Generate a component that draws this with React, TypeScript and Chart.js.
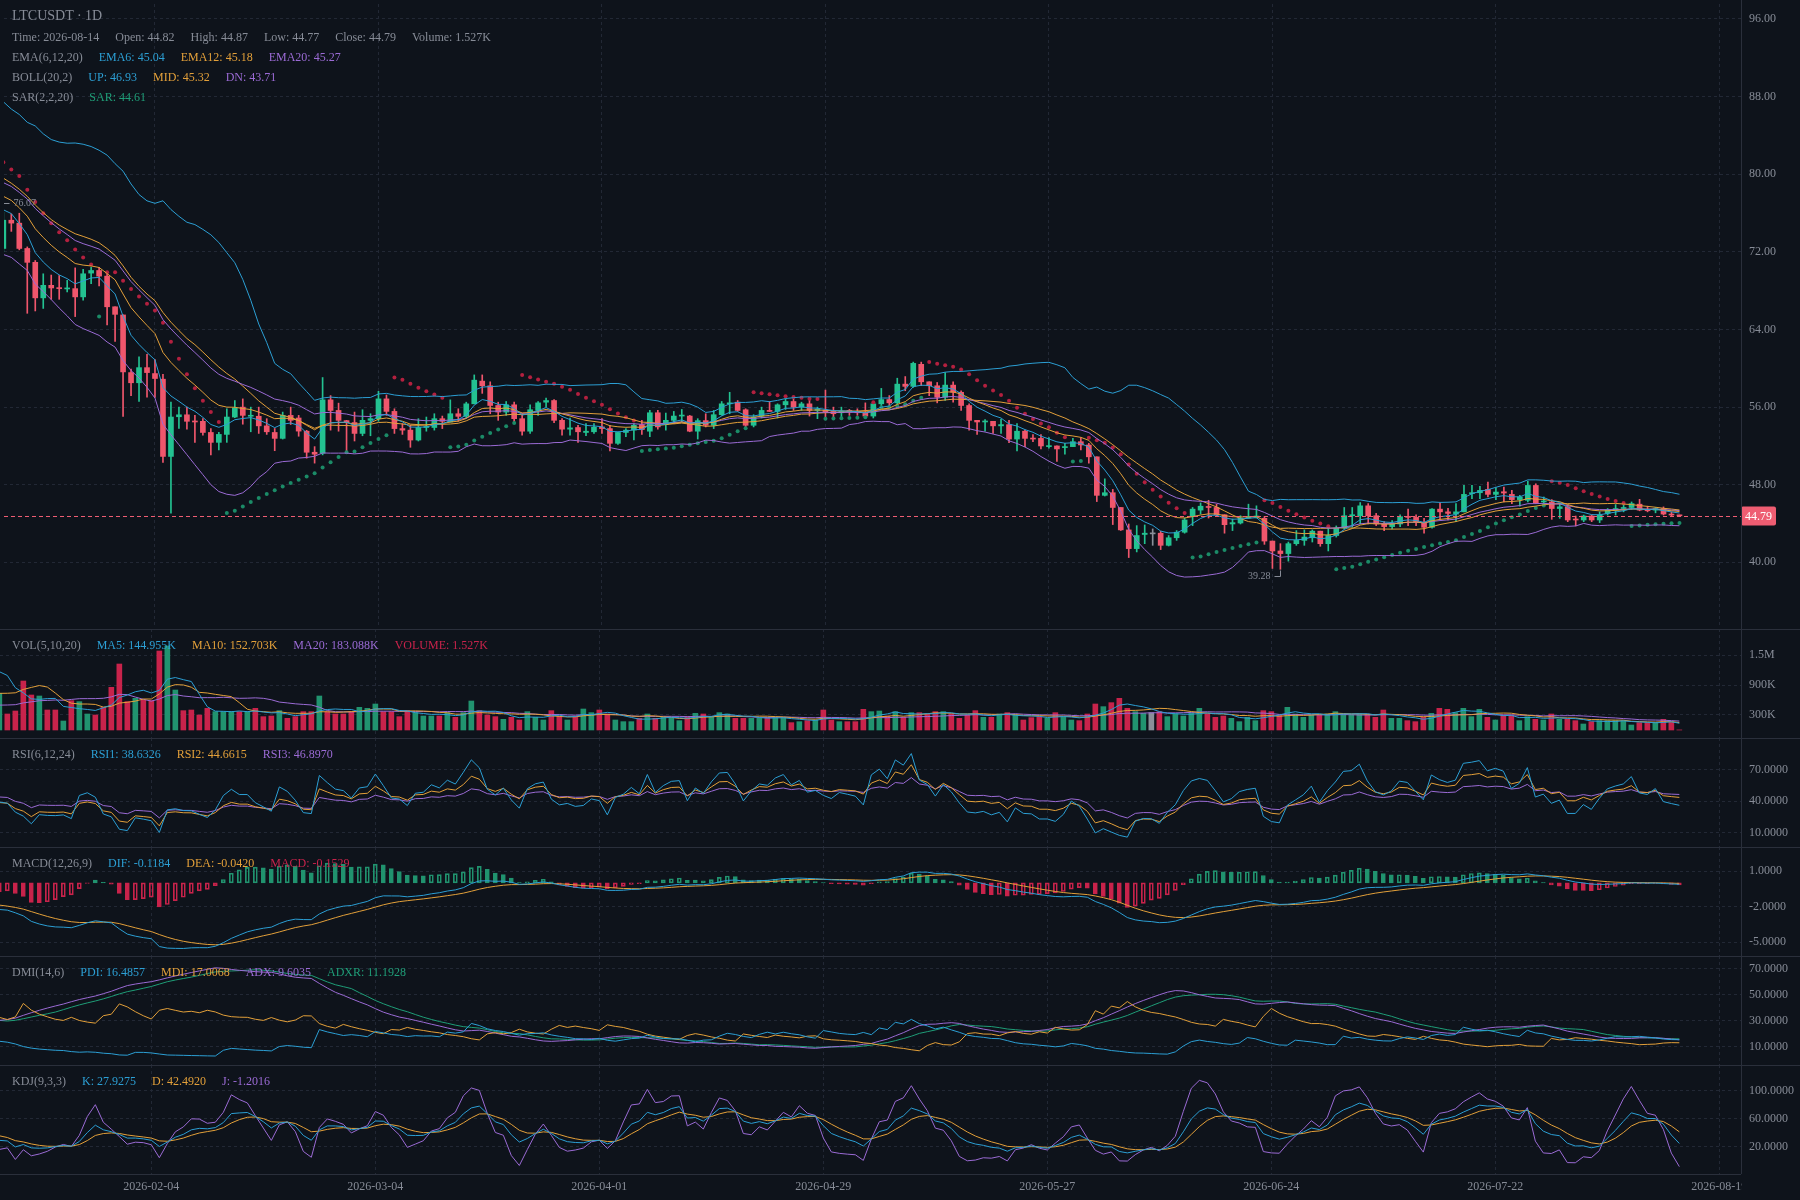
import React, { useEffect, useRef } from 'react';
import { Chart, registerables } from 'chart.js';

Chart.register(...registerables);

// ---------------- data ----------------
const FIRST_DATE = '2025-12-07'; // date of first candle (includes warm-up history before the visible window)
const PRE = 40; // number of warm-up candles before 2026-01-16 (left edge)

const OPEN = [
  84.2, 84.6, 85.3, 84.9, 85.8, 86.4, 85.7, 85.1, 85.9, 86.6,
  86.0, 85.3, 84.7, 85.4, 86.1, 85.6, 84.9, 85.5, 86.2, 85.8,
  85.0, 84.7, 85.4, 84.8, 85.6, 85.0, 84.4, 82.4, 79.6, 77.5,
  76.0, 75.2, 75.9, 76.9, 78.2, 79.6, 81.2, 82.0, 78.6, 75.6,
  72.34, 75.25, 74.95, 72.34, 70.91, 67.25, 68.54, 68.27, 68.17, 68.20,
  67.35, 69.80, 70.07, 69.49, 66.33, 65.49, 59.55, 58.50, 60.06, 59.45,
  58.87, 50.91, 55.00, 55.20, 54.53, 54.53, 53.38, 52.36, 53.18, 54.97,
  55.99, 55.05, 55.05, 54.06, 53.38, 52.77, 55.14, 54.87, 53.51, 51.34,
  51.24, 56.74, 55.65, 54.60, 54.40, 53.28, 54.63, 54.80, 56.84, 55.55,
  53.78, 53.62, 52.60, 53.89, 53.89, 54.80, 54.46, 55.31, 55.04, 56.33,
  58.67, 58.19, 56.16, 55.48, 56.23, 54.80, 53.51, 55.65, 56.50, 56.67,
  54.63, 53.72, 53.89, 53.38, 53.45, 53.95, 53.78, 52.26, 53.38, 53.62,
  54.19, 53.51, 55.41, 54.19, 54.63, 55.07, 55.07, 53.51, 54.60, 54.12,
  55.21, 56.33, 56.50, 55.72, 54.12, 55.07, 55.65, 55.55, 56.23, 56.57,
  55.99, 56.33, 55.65, 55.65, 55.55, 55.41, 55.65, 55.55, 55.48, 55.07,
  56.33, 56.77, 56.43, 58.36, 58.13, 60.40, 58.60, 58.19, 57.01, 58.26,
  57.52, 56.16, 54.63, 54.46, 54.53, 54.06, 54.19, 52.70, 53.51, 52.77,
  52.77, 51.92, 51.99, 51.82, 51.92, 52.43, 52.09, 50.87, 46.90, 47.17,
  45.65, 43.34, 41.41, 42.87, 42.93, 43.00, 41.75, 42.53, 43.10, 44.70,
  45.38, 45.72, 45.65, 44.90, 43.95, 44.05, 44.56, 44.63, 44.53, 42.19,
  41.17, 40.90, 41.92, 42.26, 42.53, 43.21, 41.92, 42.76, 43.54, 44.80,
  44.80, 45.82, 44.80, 43.95, 43.68, 43.95, 44.70, 44.63, 44.02, 43.61,
  45.48, 45.20, 44.97, 45.20, 47.07, 47.17, 47.51, 47.00, 47.27, 47.00,
  46.46, 46.39, 47.92, 46.22, 46.22, 45.54, 45.72, 44.46, 44.36, 44.77,
  44.36, 45.04, 45.38, 45.54, 45.65, 45.99, 45.44, 45.38, 45.54, 44.97,
  44.82,
];

const HIGH = [
  85.0, 85.7, 85.8, 86.2, 86.9, 86.7, 86.0, 86.3, 87.1, 86.9,
  86.3, 85.6, 85.8, 86.5, 86.4, 85.9, 85.9, 86.6, 86.5, 86.1,
  85.4, 85.8, 85.7, 86.0, 85.9, 85.3, 84.6, 82.7, 80.0, 77.9,
  76.4, 76.3, 77.3, 78.6, 80.0, 81.6, 83.0, 82.4, 79.0, 76.0,
  76.07, 75.90, 75.97, 72.50, 71.10, 69.73, 69.60, 69.55, 69.05, 70.34,
  70.20, 70.40, 70.40, 69.90, 66.33, 65.50, 59.90, 61.18, 61.42, 60.90,
  59.38, 56.50, 55.99, 55.99, 55.14, 54.80, 53.79, 53.40, 55.82, 56.67,
  56.84, 55.99, 55.99, 54.80, 53.79, 55.48, 55.99, 55.14, 53.60, 51.92,
  59.04, 57.18, 56.40, 54.63, 55.48, 55.72, 55.31, 57.62, 57.24, 55.82,
  54.29, 54.12, 54.80, 54.97, 55.31, 55.07, 56.74, 55.82, 56.50, 59.31,
  59.31, 58.60, 56.50, 56.57, 56.50, 55.31, 56.23, 56.57, 56.91, 56.77,
  54.80, 54.87, 54.12, 54.29, 54.29, 54.80, 54.12, 53.40, 53.78, 54.29,
  54.63, 55.65, 55.65, 55.38, 55.55, 55.75, 55.14, 54.80, 55.31, 55.65,
  56.57, 57.52, 56.67, 55.82, 55.21, 55.99, 56.57, 56.33, 56.84, 56.84,
  56.50, 56.84, 55.99, 57.75, 55.99, 55.99, 55.75, 55.82, 56.43, 56.50,
  57.92, 57.18, 58.97, 59.14, 60.63, 60.63, 58.60, 58.53, 59.55, 58.60,
  57.68, 56.33, 54.63, 54.70, 54.53, 54.73, 54.63, 54.29, 53.62, 53.17,
  53.17, 52.84, 51.99, 52.26, 52.77, 52.84, 52.26, 50.87, 48.60, 47.51,
  45.65, 43.95, 43.78, 43.85, 43.44, 43.20, 42.76, 43.27, 44.56, 45.65,
  46.12, 46.39, 45.99, 44.90, 44.46, 44.80, 45.99, 45.82, 44.70, 42.19,
  41.92, 42.09, 43.27, 43.34, 43.34, 43.21, 43.61, 43.75, 45.65, 45.65,
  46.16, 46.05, 45.04, 44.19, 44.29, 44.90, 45.48, 44.90, 44.53, 45.54,
  46.12, 45.55, 46.05, 47.92, 47.92, 47.82, 48.26, 47.68, 47.75, 47.41,
  46.90, 48.36, 48.09, 46.73, 46.46, 46.05, 45.88, 44.77, 44.87, 44.87,
  45.20, 45.54, 45.95, 46.05, 46.22, 46.49, 45.78, 45.65, 45.71, 45.20,
  44.87,
];

const LOW = [
  83.8, 84.3, 84.5, 84.6, 85.4, 85.3, 84.7, 84.8, 85.6, 85.6,
  84.9, 84.3, 84.4, 85.1, 85.2, 84.5, 84.6, 85.2, 85.4, 84.6,
  84.3, 84.4, 84.4, 84.5, 84.6, 84.0, 82.0, 79.2, 77.1, 75.6,
  74.8, 75.0, 75.6, 76.6, 77.9, 79.3, 80.9, 74.6, 74.0, 72.4,
  72.00, 74.10, 72.20, 65.66, 65.90, 66.16, 67.10, 67.10, 67.86, 65.32,
  67.00, 68.70, 68.47, 64.47, 62.77, 55.04, 57.18, 56.57, 57.01, 57.00,
  50.30, 45.07, 53.79, 53.72, 52.36, 53.10, 51.07, 51.58, 52.36, 54.90,
  54.23, 53.45, 53.28, 53.18, 51.50, 52.70, 54.20, 52.99, 50.73, 50.22,
  51.07, 53.62, 53.51, 51.41, 52.50, 53.04, 53.04, 54.53, 55.14, 53.28,
  53.18, 51.85, 52.50, 53.51, 53.62, 53.78, 54.46, 54.53, 54.87, 56.33,
  57.41, 55.31, 54.63, 55.14, 54.40, 53.11, 53.28, 55.14, 55.99, 54.40,
  53.11, 53.11, 52.36, 53.04, 53.28, 53.28, 51.48, 52.16, 52.94, 52.60,
  53.18, 52.94, 53.72, 53.62, 54.29, 54.46, 53.45, 52.70, 53.95, 53.78,
  55.14, 55.31, 55.55, 53.95, 53.95, 54.87, 55.55, 54.87, 55.75, 55.65,
  55.65, 55.07, 54.80, 54.97, 54.97, 54.87, 55.14, 55.14, 54.97, 54.87,
  55.99, 56.16, 56.33, 57.68, 58.02, 58.20, 57.17, 56.43, 56.67, 56.50,
  55.65, 53.62, 53.17, 53.51, 53.28, 53.28, 52.33, 51.48, 51.92, 52.43,
  51.68, 51.75, 50.39, 51.14, 51.92, 51.58, 50.22, 46.26, 46.83, 43.89,
  43.28, 40.49, 41.07, 41.92, 41.75, 41.31, 41.68, 42.26, 43.00, 43.78,
  44.97, 44.56, 44.80, 43.00, 43.27, 43.95, 44.53, 44.56, 41.85, 39.37,
  39.28, 40.12, 41.75, 41.75, 42.09, 41.65, 41.17, 42.60, 43.44, 43.61,
  43.95, 43.95, 43.78, 43.27, 43.44, 43.68, 43.78, 43.78, 43.00, 43.51,
  44.43, 44.36, 44.19, 45.20, 46.56, 46.56, 46.73, 46.46, 46.22, 46.05,
  45.78, 46.22, 46.05, 45.99, 44.43, 44.53, 44.19, 43.75, 44.19, 44.19,
  44.09, 44.87, 44.87, 45.20, 45.44, 45.31, 45.20, 45.10, 44.87, 44.77,
  44.77,
];

const CLOSE = [
  84.6, 85.3, 84.9, 85.8, 86.4, 85.7, 85.1, 85.9, 86.6, 86.0,
  85.3, 84.7, 85.4, 86.1, 85.6, 84.9, 85.5, 86.2, 85.8, 85.0,
  84.7, 85.4, 84.8, 85.6, 85.0, 84.4, 82.4, 79.6, 77.5, 76.0,
  75.2, 75.9, 76.9, 78.2, 79.6, 81.2, 82.0, 78.6, 75.6, 72.6,
  75.25, 74.95, 72.34, 70.91, 67.25, 68.54, 68.27, 68.20, 68.27, 67.35,
  69.73, 70.07, 69.49, 66.33, 65.55, 59.62, 58.50, 60.06, 59.55, 58.94,
  50.91, 54.97, 55.20, 54.53, 54.46, 53.38, 52.36, 53.18, 54.97, 55.89,
  55.14, 55.14, 54.06, 53.45, 52.77, 55.14, 54.63, 53.52, 51.34, 51.14,
  56.74, 55.65, 54.63, 54.40, 53.28, 54.63, 54.80, 56.84, 55.55, 53.78,
  53.62, 52.60, 53.89, 54.00, 54.80, 54.53, 55.31, 55.04, 56.33, 58.77,
  58.19, 56.16, 55.48, 56.23, 54.80, 53.51, 55.72, 56.43, 56.67, 54.63,
  53.72, 53.85, 53.45, 53.51, 53.92, 53.78, 52.26, 53.38, 53.62, 54.12,
  53.68, 55.41, 53.95, 54.63, 55.07, 55.14, 53.51, 54.60, 54.12, 55.21,
  56.33, 56.40, 55.65, 54.12, 54.97, 55.65, 55.55, 56.23, 56.57, 55.99,
  56.33, 55.65, 55.75, 55.48, 55.31, 55.55, 55.48, 55.41, 55.07, 56.33,
  56.77, 56.43, 58.36, 58.13, 60.50, 58.60, 58.19, 57.01, 58.26, 57.52,
  56.16, 54.63, 54.46, 54.56, 54.06, 54.19, 52.70, 53.51, 52.77, 52.70,
  51.99, 51.99, 51.68, 51.92, 52.43, 52.09, 50.87, 46.90, 47.17, 45.65,
  43.34, 41.41, 42.76, 43.00, 42.93, 41.75, 42.53, 43.10, 44.36, 45.48,
  45.78, 45.65, 44.90, 43.88, 44.09, 44.56, 44.70, 44.77, 42.19, 41.17,
  40.90, 41.92, 42.26, 42.60, 43.21, 41.92, 42.76, 43.54, 44.80, 44.90,
  45.82, 44.80, 43.95, 43.68, 43.95, 44.70, 44.63, 44.15, 43.61, 45.48,
  45.20, 45.04, 45.20, 47.00, 47.17, 47.41, 47.00, 47.24, 47.14, 46.46,
  46.73, 47.92, 46.12, 46.32, 45.54, 45.72, 44.36, 44.36, 44.77, 44.36,
  44.87, 45.38, 45.54, 45.65, 46.05, 45.38, 45.31, 45.54, 44.97, 44.87,
  44.79,
];

// volume in thousands
const VOLUME = [
  260, 245, 280, 230, 270, 255, 290, 240, 265, 250,
  275, 235, 260, 285, 245, 270, 250, 265, 240, 280,
  255, 270, 245, 260, 275, 250, 265, 240, 285, 255,
  270, 300, 290, 310, 297, 300, 700, 1600, 1500, 1300,
  733, 320, 380, 980, 700, 680, 400, 400, 180, 587,
  567, 320, 300, 453, 853, 1320, 567, 633, 600, 587,
  1580, 1680, 800, 387, 400, 300, 433, 367, 367, 367,
  367, 367, 433, 267, 280, 387, 233, 267, 367, 367,
  680, 367, 320, 320, 367, 453, 433, 520, 367, 367,
  267, 387, 347, 280, 280, 280, 347, 253, 347, 580,
  387, 300, 267, 213, 253, 200, 367, 253, 200, 387,
  280, 200, 280, 420, 347, 400, 320, 200, 167, 167,
  233, 320, 233, 253, 233, 187, 267, 333, 320, 253,
  347, 320, 233, 233, 233, 233, 253, 253, 253, 147,
  167, 187, 200, 400, 200, 167, 167, 167, 413, 367,
  380, 280, 367, 253, 347, 347, 320, 367, 367, 320,
  233, 300, 387, 253, 253, 320, 347, 300, 200, 247,
  267, 233, 347, 253, 200, 187, 320, 520, 467, 547,
  633, 433, 367, 333, 347, 367, 267, 320, 280, 347,
  433, 320, 253, 280, 233, 167, 253, 187, 387, 367,
  300, 453, 320, 253, 300, 300, 320, 367, 320, 300,
  320, 320, 253, 400, 233, 233, 187, 167, 253, 333,
  433, 413, 347, 433, 267, 413, 253, 200, 300, 300,
  187, 267, 213, 200, 320, 213, 213, 187, 120, 167,
  187, 187, 187, 187, 100, 147, 147, 147, 213, 167,
  1.527,
];

const X_TICK_DATES = ['2026-02-04', '2026-03-04', '2026-04-01', '2026-04-29', '2026-05-27', '2026-06-24', '2026-07-22', '2026-08-19'];
const MAIN_TICKS = [40, 48, 56, 64, 72, 80, 88, 96];
const VOL_TICKS = [300, 900, 1500];
const RSI_TICKS = [10, 40, 70];
const MACD_TICKS = [-5, -2, 1];
const DMI_TICKS = [10, 30, 50, 70];
const KDJ_TICKS = [20, 60, 100];

// header texts
const TITLE = 'LTCUSDT · 1D';
const INFO_ROW = ['Time: 2026-08-14', 'Open: 44.82', 'High: 44.87', 'Low: 44.77', 'Close: 44.79', 'Volume: 1.527K'];
const EMA_ROW = ['EMA(6,12,20)', 'EMA6: 45.04', 'EMA12: 45.18', 'EMA20: 45.27'];
const BOLL_ROW = ['BOLL(20,2)', 'UP: 46.93', 'MID: 45.32', 'DN: 43.71'];
const SAR_ROW = ['SAR(2,2,20)', 'SAR: 44.61'];
const VOL_ROW = ['VOL(5,10,20)', 'MA5: 144.955K', 'MA10: 152.703K', 'MA20: 183.088K', 'VOLUME: 1.527K'];
const RSI_ROW = ['RSI(6,12,24)', 'RSI1: 38.6326', 'RSI2: 44.6615', 'RSI3: 46.8970'];
const MACD_ROW = ['MACD(12,26,9)', 'DIF: -0.1184', 'DEA: -0.0420', 'MACD: -0.1529'];
const DMI_ROW = ['DMI(14,6)', 'PDI: 16.4857', 'MDI: 17.0068', 'ADX: 9.6035', 'ADXR: 11.1928'];
const KDJ_ROW = ['KDJ(9,3,3)', 'K: 27.9275', 'D: 42.4920', 'J: -1.2016'];

// ---------------- style ----------------
const FONT = '"Liberation Serif", "Times New Roman", serif';
const BG = '#0e131b';
const GRID = '#222835';
const SEP = '#2a2f3b';
const TXT = '#878c97';
const CYAN = '#2c9fd4';
const ORANGE = '#e3a03a';
const PURPLE = '#9b6bd5';
const GREEN = '#1f9e78';
const RED = '#c8234b';
const UP = '#23c291';
const DOWN = '#f0566c';
const FLAT = '#8a8f99';
const VOL_UP = '#21936f';
const VOL_DOWN = '#c8234b';
const SAR_UP = '#1b8b67';
const SAR_DOWN = '#b3203f';
const TAG = '#ee5d72';

const W = 1800;
const PLOT_W = 1741;
const AXIS_W = W - PLOT_W;
const BAR_PX = 8;
const X_MIN = 0.083;
const X_MAX = X_MIN + PLOT_W / BAR_PX;

const PANES = [
  { key: 'main', top: 0, height: 629 },
  { key: 'vol', top: 629, height: 109 },
  { key: 'rsi', top: 738, height: 109 },
  { key: 'macd', top: 847, height: 109 },
  { key: 'dmi', top: 956, height: 109 },
  { key: 'kdj', top: 1065, height: 135 },
];

// ---------------- indicators ----------------
const N = CLOSE.length;
type Num = number | null;

const DAY = 86400000;
const dayIndex = (d: string) => Math.round((Date.parse(d) - Date.parse(FIRST_DATE)) / DAY) - PRE;
const X_TICKS = X_TICK_DATES.map(dayIndex);

function ema(src: number[], p: number): Num[] {
  const out: Num[] = [];
  let sum = 0;
  let prev = 0;
  for (let i = 0; i < src.length; i++) {
    sum += src[i];
    if (i < p - 1) out.push(null);
    else if (i === p - 1) { prev = sum / p; out.push(prev); }
    else { prev = (2 * src[i] + (p - 1) * prev) / (p + 1); out.push(prev); }
  }
  return out;
}

function sma(src: number[], p: number): Num[] {
  const out: Num[] = [];
  let sum = 0;
  for (let i = 0; i < src.length; i++) {
    sum += src[i];
    if (i >= p) sum -= src[i - p];
    out.push(i >= p - 1 ? sum / p : null);
  }
  return out;
}

function boll(p: number, k: number) {
  const mid: Num[] = [], up: Num[] = [], dn: Num[] = [];
  for (let i = 0; i < N; i++) {
    if (i < p - 1) { mid.push(null); up.push(null); dn.push(null); continue; }
    let s = 0;
    for (let j = i - p + 1; j <= i; j++) s += CLOSE[j];
    const m = s / p;
    let v = 0;
    for (let j = i - p + 1; j <= i; j++) v += (CLOSE[j] - m) ** 2;
    const sd = Math.sqrt(v / p);
    mid.push(m); up.push(m + k * sd); dn.push(m - k * sd);
  }
  return { mid, up, dn };
}

// parabolic SAR (extreme point includes the current bar)
function sar(startAf: number, step: number, maxAf: number): number[] {
  const out: number[] = [];
  let af = startAf;
  let ep = -100;
  let rising = false;
  let s = 0;
  for (let i = 0; i < N; i++) {
    const prev = s;
    const h = HIGH[i], l = LOW[i];
    const pi = Math.max(1, i) - 1;
    if (rising) {
      if (ep === -100 || ep < h) { ep = h; af = Math.min(af + step, maxAf); }
      s = prev + af * (ep - prev);
      const lowMin = Math.min(LOW[pi], l);
      if (s > l) { s = ep; af = startAf; ep = -100; rising = false; }
      else if (s > lowMin) s = lowMin;
    } else {
      if (ep === -100 || ep > l) { ep = l; af = Math.min(af + step, maxAf); }
      s = prev + af * (ep - prev);
      const highMax = Math.max(HIGH[pi], h);
      if (s < h) { s = ep; af = 0; ep = -100; rising = true; }
      else if (s < highMax) s = highMax;
    }
    out.push(s);
  }
  return out;
}

function rsi(p: number): Num[] {
  const out: Num[] = [null];
  let au = 0, ad = 0;
  for (let i = 1; i < N; i++) {
    const d = CLOSE[i] - CLOSE[i - 1];
    const u = Math.max(d, 0), w = Math.max(-d, 0);
    if (i === 1) { au = u; ad = w; } else { au = (u + (p - 1) * au) / p; ad = (w + (p - 1) * ad) / p; }
    out.push(i >= p ? (au + ad === 0 ? 50 : (100 * au) / (au + ad)) : null);
  }
  return out;
}

function macd(s: number, l: number, sig: number) {
  const es = ema(CLOSE, s), el = ema(CLOSE, l);
  const dif: Num[] = [], dea: Num[] = [], hist: Num[] = [];
  let difSum = 0, d = 0;
  const first = Math.max(s, l) - 1;
  for (let i = 0; i < N; i++) {
    if (i < first) { dif.push(null); dea.push(null); hist.push(null); continue; }
    const df = (es[i] as number) - (el[i] as number);
    dif.push(df);
    difSum += df;
    if (i < first + sig - 1) { dea.push(null); hist.push(null); continue; }
    d = i === first + sig - 1 ? difSum / sig : (2 * df + (sig - 1) * d) / (sig + 1);
    dea.push(d);
    hist.push((df - d) * 2);
  }
  return { dif, dea, hist };
}

function dmi(n: number, m: number) {
  const pdi: Num[] = [], mdi: Num[] = [], adx: Num[] = [], adxr: Num[] = [];
  let trSum = 0, hSum = 0, lSum = 0, mtr = 0, dmp = 0, dmm = 0, dxSum = 0, a = 0;
  for (let i = 0; i < N; i++) {
    const pi = i > 0 ? i - 1 : 0;
    const pc = CLOSE[pi];
    const tr = Math.max(HIGH[i] - LOW[i], Math.abs(HIGH[i] - pc), Math.abs(pc - LOW[i]));
    const hh = HIGH[i] - HIGH[pi];
    const ll = LOW[pi] - LOW[i];
    const h = hh > 0 && hh > ll ? hh : 0;
    const l = ll > 0 && ll > hh ? ll : 0;
    trSum += tr; hSum += h; lSum += l;
    pdi.push(null); mdi.push(null); adx.push(null); adxr.push(null);
    if (i < n - 1) continue;
    if (i > n - 1) { mtr = mtr - mtr / n + tr; dmp = dmp - dmp / n + h; dmm = dmm - dmm / n + l; }
    else { mtr = trSum; dmp = hSum; dmm = lSum; }
    const p = mtr ? (dmp * 100) / mtr : 0;
    const q = mtr ? (dmm * 100) / mtr : 0;
    pdi[i] = p; mdi[i] = q;
    const dx = p + q ? (Math.abs(q - p) / (p + q)) * 100 : 0;
    dxSum += dx;
    if (i >= n * 2 - 2) {
      a = i > n * 2 - 2 ? (a * (n - 1) + dx) / n : dxSum / n;
      adx[i] = a;
      if (i >= n * 2 + m - 3) adxr[i] = (((adx[i - (m - 1)] as number) ?? 0) + a) / 2;
    }
  }
  return { pdi, mdi, adx, adxr };
}

function kdj(n: number, m1: number, m2: number) {
  const K: Num[] = [], D: Num[] = [], J: Num[] = [];
  let k = 50, d = 50;
  for (let i = 0; i < N; i++) {
    if (i < n - 1) { K.push(null); D.push(null); J.push(null); continue; }
    let hh = -Infinity, ll = Infinity;
    for (let j = i - n + 1; j <= i; j++) { hh = Math.max(hh, HIGH[j]); ll = Math.min(ll, LOW[j]); }
    const rsv = ((CLOSE[i] - ll) / (hh - ll || 1)) * 100;
    k = ((m1 - 1) * k + rsv) / m1;
    d = ((m2 - 1) * d + k) / m2;
    K.push(k); D.push(d); J.push(3 * k - 2 * d);
  }
  return { K, D, J };
}

// ---------------- chart building ----------------
const pts = (arr: Num[]) => arr.map((v, i) => ({ x: i - PRE, y: v }));
const candleColor = (i: number) => (CLOSE[i] > OPEN[i] ? UP : CLOSE[i] < OPEN[i] ? DOWN : FLAT);
const volColor = (i: number) => (CLOSE[i] > OPEN[i] ? VOL_UP : CLOSE[i] < OPEN[i] ? VOL_DOWN : FLAT);

const lineDs = (arr: Num[], color: string) => ({
  type: 'line',
  data: pts(arr),
  borderColor: color,
  borderWidth: 1,
  pointRadius: 0,
  tension: 0,
  spanGaps: false,
  order: 0,
});

function xScale(labels: boolean) {
  return {
    type: 'linear',
    min: X_MIN,
    max: X_MAX,
    offset: false,
    grid: { color: GRID, drawTicks: false, offset: false },
    border: { display: false, dash: [3, 3] },
    ticks: {
      display: labels,
      color: TXT,
      font: { family: FONT, size: 12 },
      padding: 6,
      maxRotation: 0,
      autoSkip: false,
      callback: (v: number) => {
        const k = X_TICKS.indexOf(Math.round(v));
        return k >= 0 ? X_TICK_DATES[k] : '';
      },
    },
    afterBuildTicks: (s: any) => { s.ticks = X_TICKS.map((v) => ({ value: v })); },
    afterFit: (s: any) => { s.paddingLeft = 0; s.paddingRight = 0; s.height = labels ? 26 : 0; },
  };
}

function yScale(min: number, max: number, ticks: number[], fmt: (v: number) => string) {
  return {
    type: 'linear',
    position: 'right',
    min,
    max,
    grid: { color: GRID, drawTicks: false },
    border: { display: false, dash: [3, 3] },
    ticks: { color: TXT, font: { family: FONT, size: 12 }, padding: 8, callback: (v: number) => fmt(v) },
    afterBuildTicks: (s: any) => { s.ticks = ticks.map((v) => ({ value: v })); },
    afterFit: (s: any) => { s.width = AXIS_W; s.paddingTop = 0; s.paddingBottom = 0; },
  };
}

function options(yMin: number, yMax: number, ticks: number[], fmt: (v: number) => string, labels = false) {
  return {
    responsive: false,
    maintainAspectRatio: false,
    animation: false,
    events: [],
    layout: { padding: 0 },
    plugins: { legend: { display: false }, tooltip: { enabled: false } },
    scales: { x: xScale(labels), y: yScale(yMin, yMax, ticks, fmt) },
  };
}

const f2 = (v: number) => v.toFixed(2);
const f4 = (v: number) => v.toFixed(4);
const fVol = (v: number) => (v >= 1000 ? (v / 1000).toFixed(1) + 'M' : Math.round(v) + 'K');

const mainOverlay = {
  id: 'mainOverlay',
  afterDraw(chart: any) {
    const { ctx, chartArea: a, scales } = chart;
    const xs = scales.x, ys = scales.y;
    let hi = PRE, lo = PRE;
    for (let i = PRE; i < N; i++) {
      if (HIGH[i] > HIGH[hi]) hi = i;
      if (LOW[i] < LOW[lo]) lo = i;
    }
    ctx.save();
    ctx.beginPath();
    ctx.rect(a.left, a.top, a.right - a.left, a.bottom - a.top);
    ctx.clip();
    const last = CLOSE[N - 1];
    const py = Math.round(ys.getPixelForValue(last)) + 0.5;
    ctx.strokeStyle = TAG;
    ctx.lineWidth = 1;
    ctx.setLineDash([4, 3]);
    ctx.beginPath();
    ctx.moveTo(a.left, py);
    ctx.lineTo(a.right, py);
    ctx.stroke();
    ctx.setLineDash([]);
    ctx.strokeStyle = TXT;
    ctx.fillStyle = TXT;
    ctx.font = `10px ${FONT}`;
    ctx.textBaseline = 'middle';
    const hx = Math.round(xs.getPixelForValue(hi - PRE)) + 0.5;
    const hy = Math.round(ys.getPixelForValue(HIGH[hi])) + 0.5;
    ctx.beginPath();
    ctx.moveTo(hx, hy - 1);
    ctx.lineTo(hx, hy - 9);
    ctx.lineTo(hx + 6, hy - 9);
    ctx.stroke();
    ctx.textAlign = 'left';
    ctx.fillText(HIGH[hi].toFixed(2), hx + 10, hy - 9);
    const lx = Math.round(xs.getPixelForValue(lo - PRE)) + 0.5;
    const ly = Math.round(ys.getPixelForValue(LOW[lo])) + 0.5;
    ctx.beginPath();
    ctx.moveTo(lx, ly + 1);
    ctx.lineTo(lx, ly + 7);
    ctx.lineTo(lx - 6, ly + 7);
    ctx.stroke();
    ctx.textAlign = 'right';
    ctx.fillText(LOW[lo].toFixed(2), lx - 10, ly + 7);
    ctx.restore();

    ctx.save();
    ctx.font = `12px ${FONT}`;
    const txt = last.toFixed(2);
    const w = ctx.measureText(txt).width + 8;
    ctx.fillStyle = TAG;
    ctx.beginPath();
    if (ctx.roundRect) ctx.roundRect(a.right, py - 10, w, 19, 2);
    else ctx.rect(a.right, py - 10, w, 19);
    ctx.fill();
    ctx.fillStyle = '#ffffff';
    ctx.textAlign = 'left';
    ctx.textBaseline = 'middle';
    ctx.fillText(txt, a.right + 4, py);
    ctx.restore();
  },
};

const coverOverflow = {
  id: 'coverOverflow',
  afterDraw(chart: any) {
    const { ctx, chartArea: a, width, height } = chart;
    ctx.save();
    ctx.fillStyle = BG;
    ctx.fillRect(a.right + 1, a.bottom + 1, width - a.right, height - a.bottom);
    ctx.restore();
  },
};

function buildConfigs() {
  const e6 = ema(CLOSE, 6), e12 = ema(CLOSE, 12), e20 = ema(CLOSE, 20);
  const bb = boll(20, 2);
  const sr = sar(0.02, 0.02, 0.2);
  const sarColors = sr.map((v, i) => (v < (HIGH[i] + LOW[i]) / 2 ? SAR_UP : SAR_DOWN));
  const idx = CLOSE.map((_, i) => i);

  const main = {
    type: 'bar',
    data: {
      datasets: [
        lineDs(e6, CYAN), lineDs(e12, ORANGE), lineDs(e20, PURPLE),
        lineDs(bb.up, CYAN), lineDs(bb.mid, ORANGE), lineDs(bb.dn, PURPLE),
        {
          type: 'line', data: pts(sr), showLine: false, pointRadius: 2, pointBorderWidth: 0,
          pointBackgroundColor: sarColors, pointBorderColor: sarColors, order: 0,
        },
        {
          type: 'bar', data: idx.map((i) => ({ x: i - PRE, y: [OPEN[i], CLOSE[i]] })),
          backgroundColor: idx.map(candleColor), barThickness: 5, minBarLength: 1, grouped: false, order: 1,
        },
        {
          type: 'bar', data: idx.map((i) => ({ x: i - PRE, y: [LOW[i], HIGH[i]] })),
          backgroundColor: idx.map(candleColor), barThickness: 1, grouped: false, order: 2,
        },
      ],
    },
    options: options(33.54, 97.53, MAIN_TICKS, f2),
    plugins: [mainOverlay],
  };

  const vol = {
    type: 'bar',
    data: {
      datasets: [
        lineDs(sma(VOLUME, 5), CYAN), lineDs(sma(VOLUME, 10), ORANGE), lineDs(sma(VOLUME, 20), PURPLE),
        {
          type: 'bar', data: idx.map((i) => ({ x: i - PRE, y: VOLUME[i] })),
          backgroundColor: idx.map(volColor), barThickness: 5, grouped: false, order: 1,
        },
      ],
    },
    options: options(-160, 2020, VOL_TICKS, fVol),
  };

  const r6 = rsi(6), r12 = rsi(12), r24 = rsi(24);
  const rsiCfg = {
    type: 'line',
    data: { datasets: [lineDs(r6, CYAN), lineDs(r12, ORANGE), lineDs(r24, PURPLE)] },
    options: options(-3.7, 100.6, RSI_TICKS, f4),
  };

  const md = macd(12, 26, 9);
  const histColor = idx.map((i) => ((md.hist[i] ?? 0) > 0 ? VOL_UP : VOL_DOWN));
  const histFill = idx.map((i) => {
    const cur = md.hist[i] ?? 0;
    const prev = i > 0 ? md.hist[i - 1] ?? 0 : 0;
    return prev < cur ? 'rgba(0,0,0,0)' : histColor[i];
  });
  const macdCfg = {
    type: 'bar',
    data: {
      datasets: [
        lineDs(md.dif, CYAN), lineDs(md.dea, ORANGE),
        {
          type: 'bar', data: pts(md.hist), backgroundColor: histFill, borderColor: histColor,
          borderWidth: 1, borderSkipped: false, barThickness: 4, grouped: false, order: 1,
        },
      ],
    },
    options: options(-6.18, 3.03, MACD_TICKS, f4),
  };

  const dm = dmi(14, 6);
  const dmiCfg = {
    type: 'line',
    data: { datasets: [lineDs(dm.pdi, CYAN), lineDs(dm.mdi, ORANGE), lineDs(dm.adx, PURPLE), lineDs(dm.adxr, GREEN)] },
    options: options(-4.08, 79.77, DMI_TICKS, f4),
  };

  const kd = kdj(9, 3, 3);
  const kdjCfg = {
    type: 'line',
    data: { datasets: [lineDs(kd.K, CYAN), lineDs(kd.D, ORANGE), lineDs(kd.J, PURPLE)] },
    options: options(-18.6, 137.1, KDJ_TICKS, f4, true),
    plugins: [coverOverflow],
  };

  return [main, vol, rsiCfg, macdCfg, dmiCfg, kdjCfg];
}

// ---------------- components ----------------
function Legend({ top, items, size = 12 }: { top: number; items: { text: string; color: string }[]; size?: number }) {
  return (
    <div
      style={{
        position: 'absolute', left: 12, top, height: 16, lineHeight: '16px', fontSize: size,
        display: 'flex', gap: 16, whiteSpace: 'nowrap', pointerEvents: 'none', fontFamily: FONT,
      }}
    >
      {items.map((it, i) => (
        <span key={i} style={{ color: it.color }}>{it.text}</span>
      ))}
    </div>
  );
}

const colorize = (row: string[], colors: string[]) => row.map((t, i) => ({ text: t, color: colors[i] ?? TXT }));

export default function App() {
  const canvases = useRef<(HTMLCanvasElement | null)[]>([]);

  useEffect(() => {
    document.body.style.margin = '0';
    document.body.style.background = BG;
    const cfgs = buildConfigs();
    const charts = cfgs.map((cfg, i) => new Chart(canvases.current[i] as HTMLCanvasElement, cfg as any));
    return () => charts.forEach((c) => c.destroy());
  }, []);

  const sepStyle = (top: number, width: number) => ({
    position: 'absolute' as const, left: 0, top, width, height: 1, background: SEP,
  });

  return (
    <div style={{ position: 'absolute', left: 0, top: 0, width: W, height: 1200, background: BG, overflow: 'hidden', fontFamily: FONT }}>
      {PANES.map((p, i) => (
        <canvas
          key={p.key}
          ref={(el) => { canvases.current[i] = el; }}
          width={W}
          height={p.height}
          style={{ position: 'absolute', left: 0, top: p.top, width: W, height: p.height }}
        />
      ))}
      {PANES.slice(1).map((p) => (
        <div key={'sep' + p.key} style={sepStyle(p.top, W)} />
      ))}
      <div style={sepStyle(1174, PLOT_W)} />
      <div style={{ position: 'absolute', left: PLOT_W, top: 0, width: 1, height: 1174, background: SEP }} />

      <Legend top={8} size={14} items={[{ text: TITLE, color: TXT }]} />
      <Legend top={29} items={colorize(INFO_ROW, [])} />
      <Legend top={49} items={colorize(EMA_ROW, [TXT, CYAN, ORANGE, PURPLE])} />
      <Legend top={69} items={colorize(BOLL_ROW, [TXT, CYAN, ORANGE, PURPLE])} />
      <Legend top={89} items={colorize(SAR_ROW, [TXT, GREEN])} />
      <Legend top={637} items={colorize(VOL_ROW, [TXT, CYAN, ORANGE, PURPLE, RED])} />
      <Legend top={746} items={colorize(RSI_ROW, [TXT, CYAN, ORANGE, PURPLE])} />
      <Legend top={855} items={colorize(MACD_ROW, [TXT, CYAN, ORANGE, RED])} />
      <Legend top={964} items={colorize(DMI_ROW, [TXT, CYAN, ORANGE, PURPLE, GREEN])} />
      <Legend top={1073} items={colorize(KDJ_ROW, [TXT, CYAN, ORANGE, PURPLE])} />
    </div>
  );
}
